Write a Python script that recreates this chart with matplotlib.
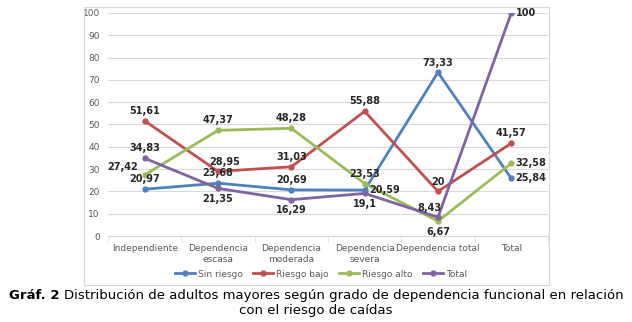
import matplotlib.pyplot as plt
from matplotlib.patches import Rectangle
from matplotlib.lines import Line2D

categories = ["Independiente", "Dependencia\nescasa", "Dependencia\nmoderada",
              "Dependencia\nsevera", "Dependencia total", "Total"]
sin_riesgo = [20.97, 23.68, 20.69, 20.59, 73.33, 25.84]
riesgo_bajo = [51.61, 28.95, 31.03, 55.88, 20, 41.57]
riesgo_alto = [27.42, 47.37, 48.28, 23.53, 6.67, 32.58]
total = [34.83, 21.35, 16.29, 19.1, 8.43, 100]

series_names = ["Sin riesgo", "Riesgo bajo", "Riesgo alto", "Total"]
series_values = [sin_riesgo, riesgo_bajo, riesgo_alto, total]
colors = ["#4F81BD", "#C0504D", "#9BBB59", "#8064A2"]

# where each value label sits relative to its point
label_pos = [
    ["up", "up", "up", "right", "up", "right"],
    ["up", "upr", "up", "up", "up", "up"],
    ["left", "up", "up", "up", "down", "right"],
    ["up", "down", "down", "down", "upl", "right"],
]
offsets = {"up": (0, 3.5, "center", "bottom"), "upr": (5, 3, "center", "bottom"),
           "upl": (-6, 3, "center", "bottom"), "down": (0, -4, "center", "top"),
           "left": (-5, 2, "right", "bottom"), "right": (3, 0, "left", "center")}

def fmt(v):
    s = ("%.2f" % v).rstrip("0").rstrip(".")
    return s.replace(".", ",")

fig = plt.figure(figsize=(6.32, 3.22), dpi=100)
fig.patches.append(Rectangle((0.133, 0.115), 0.736, 0.863, transform=fig.transFigure,
                             fill=False, edgecolor="#D9D9D9", linewidth=0.8))
ax = fig.add_axes([0.171, 0.267, 0.696, 0.693])

x = list(range(len(categories)))
for name, vals, c in zip(series_names, series_values, colors):
    ax.plot(x, vals, color=c, linewidth=2, marker="o", markersize=3.5, label=name, zorder=3)

for vals, poss in zip(series_values, label_pos):
    for xi, v, p in zip(x, vals, poss):
        dx, dy, ha, va = offsets[p]
        ax.annotate(fmt(v), (xi, v), xytext=(dx, dy), textcoords="offset points",
                    ha=ha, va=va, fontsize=7, fontweight="bold", color="#262626", zorder=4)

ax.set_xlim(-0.5, 5.5)
ax.set_ylim(0, 100)
ax.set_yticks(range(0, 101, 10))
ax.set_xticks(x)
ax.set_xticklabels(categories)
ax.set_xticks([i + 0.5 for i in range(-1, 6)], minor=True)
ax.tick_params(axis="x", which="major", length=0, pad=6, labelsize=6.5, labelcolor="#595959")
ax.tick_params(axis="x", which="minor", length=4, color="#D9D9D9")
ax.tick_params(axis="y", length=0, pad=6, labelsize=6.5, labelcolor="#595959")
ax.grid(axis="y", color="#D9D9D9", linewidth=0.8)
ax.set_axisbelow(True)
for s in ["top", "right", "left"]:
    ax.spines[s].set_visible(False)
ax.spines["bottom"].set_color("#D9D9D9")

handles = [Line2D([], [], color=c, linewidth=2, marker="o", markersize=3.5) for c in colors]
fig.legend(handles, series_names, loc="center", bbox_to_anchor=(0.508, 0.149), ncol=4,
           frameon=False, fontsize=6.5, handlelength=2.2, columnspacing=1.2,
           handletextpad=0.3, labelcolor="#595959")

# caption: bold prefix followed by regular text, centred as a whole
fig.canvas.draw()
r = fig.canvas.get_renderer()
bold = fig.text(0, 0.083, "Gráf. 2 ", fontsize=9.5, fontweight="bold", va="center")
rest = fig.text(0, 0.083, "Distribución de adultos mayores según grado de dependencia funcional en relación",
                fontsize=9.5, va="center")
wb = bold.get_window_extent(r).width / fig.bbox.width
wr = rest.get_window_extent(r).width / fig.bbox.width
x0 = 0.5 - (wb + wr) / 2
bold.set_x(x0)
rest.set_x(x0 + wb)
fig.text(0.5, 0.035, "con el riesgo de caídas", fontsize=9.5, ha="center", va="center")

fig.savefig("out.png", dpi=100)
